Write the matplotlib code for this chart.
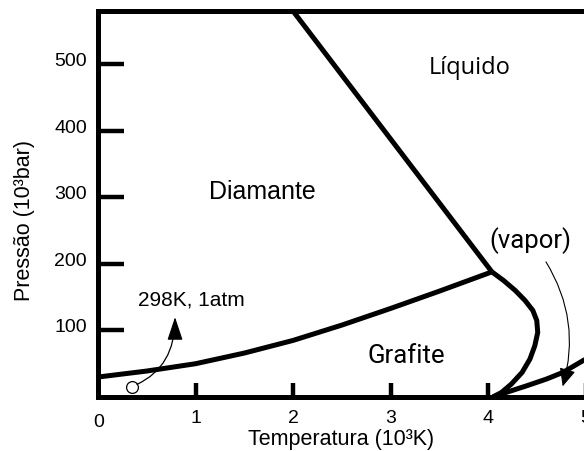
import matplotlib
matplotlib.use("Agg")
import matplotlib.pyplot as plt
from matplotlib.transforms import ScaledTranslation

# ---- data (T in 10^3 K, P in 10^3 bar) ----
gd_T = [0.0, 0.5, 1.0, 1.5, 2.0, 2.5, 3.0, 3.5, 4.04]              # graphite / diamond
gd_P = [30, 39, 50, 66, 85, 108, 133, 159, 188]
dl_T = [2.0, 4.04]                                                   # diamond / liquid
dl_P = [580, 188]
gl_T = [4.04, 4.16, 4.28, 4.38, 4.46, 4.50, 4.51, 4.48, 4.43, 4.35, 4.24, 4.14, 4.05]
gl_P = [188, 175, 160, 145, 130, 115, 97, 77, 57, 37, 19.5, 7, 0]   # graphite / liquid
gv_T = [4.05, 4.19, 4.40, 4.60, 4.77, 4.99, 5.05]                   # graphite / vapor
gv_P = [0, 7, 17, 27, 37, 56, 62]

x_ticks = [1, 2, 3, 4, 5]
x_ticklabels = ["1", "2", "3", "4", "5"]
y_ticks = [100, 200, 300, 400, 500]
y_ticklabels = ["100", "200", "300", "400", "500"]

plt.rcParams["font.family"] = ["Liberation Sans", "DejaVu Sans"]
plt.rcParams["xtick.labelsize"] = 14
plt.rcParams["ytick.labelsize"] = 14

W, H = 584, 452
fig = plt.figure(figsize=(W / 100, H / 100), dpi=100)
ax = fig.add_axes([98 / W, (H - 398) / H, (585.5 - 98) / W, 386 / H])
ax.set_xlim(0, 5)
ax.set_ylim(0, 580)

LW = 3.6
for T, P in [(gd_T, gd_P), (dl_T, dl_P), (gl_T, gl_P), (gv_T, gv_P)]:
    ax.plot(T, P, color="black", lw=LW, solid_capstyle="butt",
            solid_joinstyle="round", clip_on=True)

for s in ["left", "bottom", "top"]:
    ax.spines[s].set_linewidth(LW)
ax.spines["right"].set_visible(False)

ax.set_xticks(x_ticks, x_ticklabels)
ax.set_yticks(y_ticks, y_ticklabels)
ax.tick_params(axis="x", direction="in", length=10, width=3.2, pad=9, labelsize=14)
ax.tick_params(axis="y", direction="in", length=18.5, width=3.2, pad=8, labelsize=14)

fig.text(99 / W, 1 - 423 / H, "0", fontsize=14, ha="center", va="center")
fig.text(341 / W, 1 - 440 / H, "Temperatura (10³K)", fontsize=15.5,
         ha="center", va="center")
fig.text(24.5 / W, 1 - 221 / H, "Pressão (10³bar)", fontsize=15.5,
         ha="center", va="center", rotation=90)

# region labels
ax.text(3.815, 487, "Líquido", fontsize=17, family="Open Sans", ha="center", va="baseline")
ax.text(1.687, 299, "Diamante", fontsize=18, family="Liberation Sans", ha="center", va="baseline")
ax.text(3.159, 52.6, "Grafite", fontsize=18.5, family="Roboto", ha="center", va="baseline")
ax.text(4.436, 225, "(vapor)", fontsize=18.5, family="Roboto", ha="center", va="baseline")
ax.text(0.954, 138.6, "298K, 1atm", fontsize=15, family="Liberation Sans", ha="center", va="baseline")

# 298K, 1atm marker and arrow
ax.plot([0.35], [15], marker="o", ms=8.5, mfc="white", mec="black", mew=0.9, clip_on=False)
ax.annotate("", xy=(0.79, 120), xytext=(0.40, 19),
            arrowprops=dict(arrowstyle="-|>,head_length=0.72,head_width=0.24",
                            connectionstyle="angle3,angleA=25,angleB=90",
                            lw=0.9, color="black", shrinkA=0, shrinkB=0, mutation_scale=20))

# vapor arrow
ax.annotate("", xy=(4.766, 16), xytext=(4.595, 203),
            arrowprops=dict(arrowstyle="-|>,head_length=0.55,head_width=0.25",
                            connectionstyle="arc3,rad=-0.22",
                            lw=0.8, color="black", shrinkA=0, shrinkB=0, mutation_scale=20))

fig.canvas.draw()
for lab in ax.xaxis.get_majorticklabels() + ax.yaxis.get_majorticklabels():
    lab.set_fontsize(14)
for lab in ax.yaxis.get_majorticklabels():
    lab.set_transform(lab.get_transform() + ScaledTranslation(0, 4 / 72, fig.dpi_scale_trans))

fig.savefig("out.png", dpi=100)
